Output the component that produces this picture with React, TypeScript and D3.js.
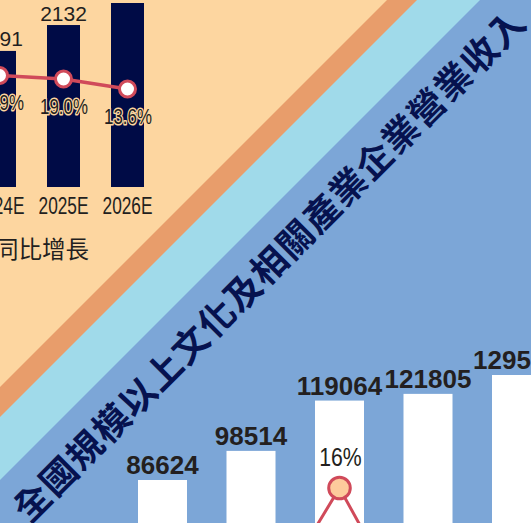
import React from "react";
import * as d3 from "d3";

const W = 531;
const H = 523;

// Upper (forecast) chart
const forecastYears = ["2024E", "2025E", "2026E"];
const forecastValues = [1791, 2132, 2422];
const forecastGrowth = [20.9, 19.0, 13.6];
const forecastGrowthLabels = ["20.9%", "19.0%", "13.6%"];
const legendLabel = "同比增長";

// Lower chart
const revenueYears = ["2019", "2020", "2021", "2022", "2023"];
const revenueValues = [86624, 98514, 119064, 121805, 129515];
const revenueGrowth = [7.0, 2.2, 16.0, 0.9, 8.2];
const revenueGrowthLabels = ["7%", "2.2%", "16%", "0.9%", "8.2%"];
const title = "全國規模以上文化及相關產業企業營業收入";

const C = {
  beige: "#FDD6A0",
  orange: "#E89D6B",
  lightBlue: "#A0DAEA",
  blue: "#7CA6D7",
  navy: "#000B46",
  red: "#D04A5A",
  text: "#231F20",
  titleNavy: "#06124F",
  dotFill: "#FDCB9C",
};

const NUM_FONT = "'Liberation Sans', Arial, sans-serif";
const CJK_FONT = "'Noto Sans CJK TC', 'Noto Sans CJK SC', sans-serif";

export default function App() {
  // upper scales
  const fx = d3.scaleLinear().domain([0, forecastYears.length - 1]).range([-0.5, 127.5]);
  const fy = d3.scaleLinear().domain([0, 2422]).range([187, 3]);
  const fg = d3.scaleLinear().domain([13.6, 19.0]).range([89, 79]);
  const fBarW = 33;
  const fLine = d3
    .line<number>()
    .x((_, i) => fx(i))
    .y((d) => fg(d));

  // lower scales
  const rx = d3.scaleLinear().domain([0, revenueYears.length - 1]).range([162.5, 516.5]);
  const ry = d3.scaleLinear().domain([86624, 129515]).range([480, 375]);
  const rg = d3.scaleLinear().domain([0, 16]).range([658, 488]);
  const rBarW = 49;
  const rLine = d3
    .line<number>()
    .x((_, i) => rx(i))
    .y((d) => rg(d));

  const big = 2000;
  // region x+y >= s
  const region = (s: number) =>
    `M${s},0 L${s + big},0 L${s + big},${big} L${-big},${big} L${-big},${s + big} Z`;

  return (
    <svg
      width={W}
      height={H}
      viewBox={`0 0 ${W} ${H}`}
      style={{ position: "fixed", left: 0, top: 0, display: "block" }}
    >
      <rect x={0} y={0} width={W} height={H} fill={C.beige} />
      <path d={region(387)} fill={C.orange} />
      <path d={region(417)} fill={C.lightBlue} />
      <path d={region(480)} fill={C.blue} />

      {/* Upper chart */}
      <g>
        {forecastValues.map((v, i) => (
          <rect
            key={"fb" + i}
            x={fx(i) - fBarW / 2}
            y={fy(v)}
            width={fBarW}
            height={fy(0) - fy(v)}
            fill={C.navy}
          />
        ))}
        {forecastValues.map((v, i) => (
          <text
            key={"fv" + i}
            x={fx(i)}
            y={fy(v) - 4.5}
            textAnchor="middle"
            fontFamily={NUM_FONT}
            fontSize={21}
            fill={C.text}
          >
            {v}
          </text>
        ))}
        <path d={fLine(forecastGrowth) || ""} fill="none" stroke={C.red} strokeWidth={3.5} />
        {forecastGrowth.map((g, i) => (
          <circle
            key={"fc" + i}
            cx={fx(i)}
            cy={fg(g)}
            r={8}
            fill="#FFFFFF"
            stroke={C.red}
            strokeWidth={3}
          />
        ))}
        {forecastGrowth.map((g, i) => (
          <text
            key={"fgl" + i}
            transform={`translate(${fx(i) + 0.5},${fg(g) + 34.5}) scale(0.75,1)`}
            textAnchor="middle"
            fontFamily={NUM_FONT}
            fontSize={22.5}
            fill={C.text}
            stroke={C.beige}
            strokeWidth={3}
            paintOrder="stroke"
            strokeLinejoin="round"
          >
            {forecastGrowthLabels[i]}
          </text>
        ))}
        {forecastYears.map((y, i) => (
          <text
            key={"fx" + i}
            transform={`translate(${fx(i)},214) scale(0.72,1)`}
            textAnchor="middle"
            fontFamily={NUM_FONT}
            fontSize={24}
            fill={C.text}
          >
            {y}
          </text>
        ))}
        <text x={-5} y={258} fontFamily={CJK_FONT} fontSize={23.5} fill={C.text}>
          {legendLabel}
        </text>
      </g>

      {/* Title */}
      <text
        transform="translate(29,524.5) rotate(-45)"
        fontFamily={CJK_FONT}
        fontWeight={700}
        fontSize={36}
        letterSpacing={1.2}
        fill={C.titleNavy}
      >
        {title}
      </text>

      {/* Lower chart */}
      <g>
        {revenueValues.map((v, i) => (
          <rect
            key={"rb" + i}
            x={rx(i) - rBarW / 2}
            y={ry(v)}
            width={rBarW}
            height={H + 200 - ry(v)}
            fill="#FFFFFF"
          />
        ))}
        {revenueValues.map((v, i) => (
          <text
            key={"rv" + i}
            x={rx(i)}
            y={ry(v) - 6}
            textAnchor="middle"
            fontFamily={NUM_FONT}
            fontWeight={700}
            fontSize={26}
            fill={C.text}
          >
            {v}
          </text>
        ))}
        <path d={rLine(revenueGrowth) || ""} fill="none" stroke={C.red} strokeWidth={3} />
        {revenueGrowth.map((g, i) => (
          <circle
            key={"rc" + i}
            cx={rx(i)}
            cy={rg(g)}
            r={10.8}
            fill={C.dotFill}
            stroke={C.red}
            strokeWidth={3}
          />
        ))}
        {revenueGrowth.map((g, i) => (
          <text
            key={"rgl" + i}
            transform={`translate(${rx(i) + 1},${rg(g) - 22}) scale(0.85,1)`}
            textAnchor="middle"
            fontFamily={NUM_FONT}
            fontSize={25}
            fill={C.text}
          >
            {revenueGrowthLabels[i]}
          </text>
        ))}
      </g>
    </svg>
  );
}
